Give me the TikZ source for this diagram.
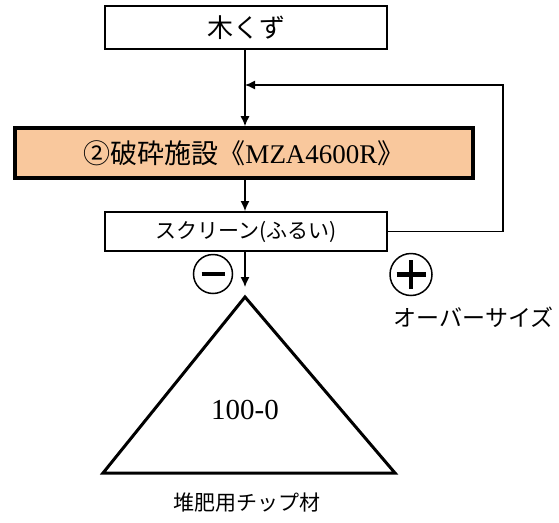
\documentclass[tikz,border=0pt]{standalone}
\usepackage{fontspec}
\setmainfont{Liberation Serif}
\newfontfamily\jpfont{Noto Sans CJK JP}
\usetikzlibrary{arrows.meta}

\definecolor{peach}{HTML}{F9C89D}

\tikzset{
  flowbox/.style = {draw, line width=1.8pt, minimum height=#1, inner sep=0pt},
  flowarrow/.style = {line width=1.3pt, -{Latex[length=10pt,width=9pt]}},
  sign/.style = {draw, circle, line width=1.5pt, minimum size=#1, inner sep=0pt}
}

\begin{document}
\begin{tikzpicture}[x=1pt, y=-1pt]
  \useasboundingbox (0,0) rectangle (559,522);
  % Kasten oben und Anlage
  \node[flowbox=43pt, minimum width=282pt] (kuzu) at (246,27.5)
    {\jpfont\fontsize{26pt}{26pt}\selectfont 木くず};
  \node[flowbox=50pt, minimum width=458pt, fill=peach, line width=3.6pt] (hasai) at (244,153)
    {\fontsize{27pt}{27pt}\selectfont\jpfont ②破砕施設《\rmfamily MZA4600R\jpfont》};
  \node[flowbox=39pt, minimum width=282pt] (screen) at (246,231.5)
    {\jpfont\fontsize{21pt}{21pt}\selectfont スクリーン(ふるい)};
  % Verbindungen
  \coordinate (join) at (245,85);
  \coordinate (top) at (245,297);
  \draw[flowarrow] (kuzu.south -| join) -- (hasai.north -| join);
  \draw[flowarrow] (hasai.south -| join) -- (screen.north -| join);
  \draw[flowarrow] (screen.east) -- (503,231.5) |- (join);
  \draw[flowarrow] (screen.south -| join) -- ([yshift=10pt]top);
  % Vorzeichen
  \node[sign=39pt] (minus) at (213,274) {};
  \draw[line width=4pt] ([xshift=-11.5pt]minus.center) -- ([xshift=11.5pt]minus.center);
  \node[sign=42pt] (plus) at (411,274.5) {};
  \draw[line width=4.5pt] ([xshift=-14.5pt]plus.center) -- ([xshift=14.5pt]plus.center)
    ([yshift=-14.5pt]plus.center) -- ([yshift=14.5pt]plus.center);
  \node (over) at (473.5,317) {\jpfont\fontsize{23pt}{23pt}\selectfont オーバーサイズ};
  % Haufen
  \draw[line width=3pt, line join=miter] (top) -- (103,473) -- (395,473) -- cycle;
  \node (grade) at (245,410) {\fontsize{29pt}{29pt}\selectfont 100-0};
  \node (chip) at (247,503) {\jpfont\fontsize{21pt}{21pt}\selectfont 堆肥用チップ材};
\end{tikzpicture}
\end{document}
